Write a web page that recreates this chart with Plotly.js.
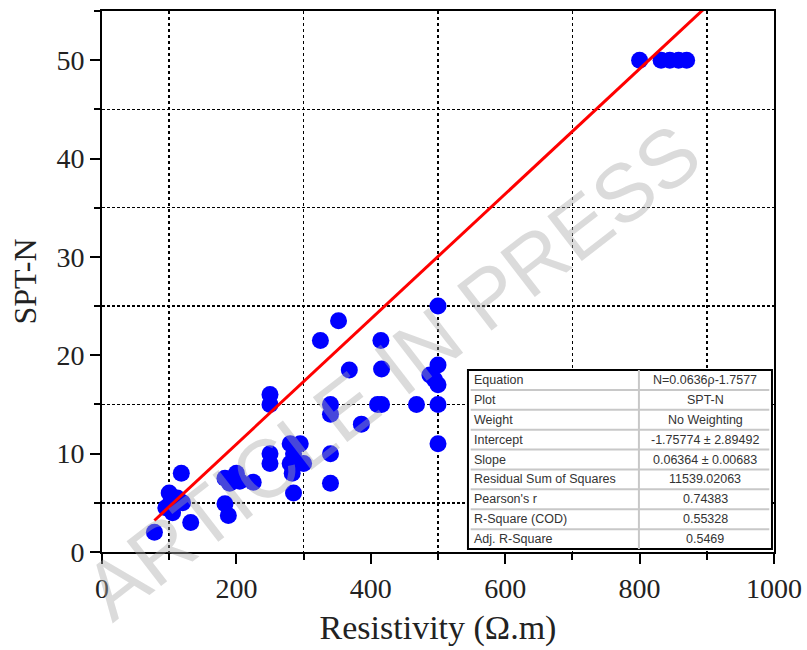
<!DOCTYPE html>
<html>
<head>
<meta charset="utf-8">
<script src="https://cdn.plot.ly/plotly-3.0.1.min.js"></script>
<style>html,body{margin:0;padding:0;background:#fff;}#chart{width:807px;height:650px;}</style>
</head>
<body>
<div id="chart"></div>
<script>
// Measured data: resistivity (Ω.m) vs SPT-N
const resistivity = [78, 118, 95, 100, 105, 112, 120, 132, 102,
  183, 190, 200, 205, 225, 183, 188,
  250, 250, 250, 250,
  280, 295, 285, 300, 280, 283, 285,
  340, 340, 340, 340,
  352, 325, 415, 368, 416, 386, 410, 416, 468,
  500, 500, 488, 500, 495, 500, 500,
  800, 832, 845, 858, 870];
const sptN = [2, 8, 4.5, 6, 4, 5.5, 5, 3, 5,
  7.5, 7, 8, 7.2, 7.1, 4.9, 3.7,
  10, 9, 15, 16,
  11, 11, 10, 9, 9, 8, 6,
  10, 7, 15, 14,
  23.5, 21.5, 21.5, 18.5, 18.6, 13, 15, 15, 15,
  25, 19, 18, 17, 17.5, 15, 11,
  50, 50, 50, 50, 50];

// Linear fit parameters (from the fit table)
const fitSlope = 0.0636;
const fitIntercept = -1.7577;
const fitXRange = [78, 900];

const xTicks = [0, 200, 400, 600, 800, 1000];
const yTicks = [0, 10, 20, 30, 40, 50];

const tableLabels = ["Equation", "Plot", "Weight", "Intercept", "Slope",
  "Residual Sum of Squares", "Pearson's r", "R-Square (COD)", "Adj. R-Square"];
const tableValues = ["N=0.0636ρ-1.7577", "SPT-N", "No Weighting",
  "-1.75774 ± 2.89492", "0.06364 ± 0.00683", "11539.02063",
  "0.74383", "0.55328", "0.5469"];

const fitX = fitXRange;
const fitY = fitX.map(x => fitSlope * x + fitIntercept);

const traces = [
  {x: resistivity, y: sptN, type: 'scatter', mode: 'markers',
   marker: {color: '#0000ff', size: 17, line: {width: 0}}, showlegend: false},
  {x: fitX, y: fitY, type: 'scatter', mode: 'lines',
   line: {color: '#ff0000', width: 3}, showlegend: false}
];

// table geometry in paper coords
const tx0 = 0.5446, tx1 = 0.997, tdiv = 0.799, ty1 = 0.3364, ty0 = 0.0055;
const rowH = (ty1 - ty0) / tableLabels.length;

const shapes = [
  {type: 'rect', xref: 'paper', yref: 'paper', x0: tx0, x1: tx1, y0: ty0, y1: ty1,
   fillcolor: '#ffffff', line: {color: '#000', width: 2}, layer: 'above'},
  {type: 'line', xref: 'paper', yref: 'paper', x0: tdiv, x1: tdiv, y0: ty0, y1: ty1,
   line: {color: '#c8c8c8', width: 2}, layer: 'above'}
];
for (let i = 1; i < tableLabels.length; i++) {
  const y = ty1 - i * rowH;
  shapes.push({type: 'line', xref: 'paper', yref: 'paper', x0: tx0 + 0.004, x1: tx1 - 0.004, y0: y, y1: y,
    line: {color: '#c8c8c8', width: 2}, layer: 'above'});
}

const annotations = [];
tableLabels.forEach((t, i) => {
  const y = ty1 - (i + 0.5) * rowH;
  annotations.push({xref: 'paper', yref: 'paper', x: tx0 + 0.006, y: y, text: t, showarrow: false,
    xanchor: 'left', yanchor: 'middle', font: {family: 'Liberation Sans, Arial', size: 12.5, color: '#333'}});
  annotations.push({xref: 'paper', yref: 'paper', x: (tdiv + tx1) / 2, y: y, text: tableValues[i], showarrow: false,
    xanchor: 'center', yanchor: 'middle', font: {family: 'Liberation Sans, Arial', size: 12.5, color: '#333'}});
});
annotations.push({xref: 'paper', yref: 'paper', x: 0.4315, y: 0.333, text: 'ARTICLE IN PRESS',
  showarrow: false, textangle: -37.7, xanchor: 'center', yanchor: 'middle',
  font: {family: 'Liberation Sans, Arial', size: 82, color: 'rgba(170,170,170,0.42)'}});

const serif = 'Liberation Serif, Times New Roman, serif';
const layout = {
  width: 807, height: 650,
  margin: {l: 102, r: 33, t: 11, b: 98},
  paper_bgcolor: '#fff', plot_bgcolor: '#fff',
  showlegend: false,
  xaxis: {
    range: [0, 1000], tickvals: xTicks, ticktext: xTicks.map(String),
    ticks: 'outside', ticklen: 10, tickwidth: 2, tickcolor: '#000',
    showgrid: false, zeroline: false,
    showline: true, linecolor: '#000', linewidth: 2, mirror: true,
    minor: {dtick: 200, tick0: 100, ticks: 'outside', ticklen: 6, tickwidth: 2, tickcolor: '#000',
            showgrid: true, gridcolor: '#000', gridwidth: 1.5, griddash: 'dot'},
    tickfont: {family: serif, size: 28, color: '#222'},
    title: {text: 'Resistivity (Ω.m)', font: {family: serif, size: 34, color: '#222'}, standoff: 13}
  },
  yaxis: {
    range: [0, 55], tickvals: yTicks, ticktext: yTicks.map(String),
    ticks: 'outside', ticklen: 10, tickwidth: 2, tickcolor: '#000',
    showgrid: false, zeroline: false,
    showline: true, linecolor: '#000', linewidth: 2, mirror: true,
    minor: {dtick: 10, tick0: 5, ticks: 'outside', ticklen: 6, tickwidth: 2, tickcolor: '#000',
            showgrid: true, gridcolor: '#000', gridwidth: 1.5, griddash: '3px,2px'},
    tickfont: {family: serif, size: 28, color: '#222'},
    title: {text: 'SPT-N', font: {family: serif, size: 32, color: '#222'}, standoff: 10}
  },
  shapes: shapes,
  annotations: annotations
};

Plotly.newPlot('chart', traces, layout, {displayModeBar: false, staticPlot: true});
</script>
</body>
</html>
